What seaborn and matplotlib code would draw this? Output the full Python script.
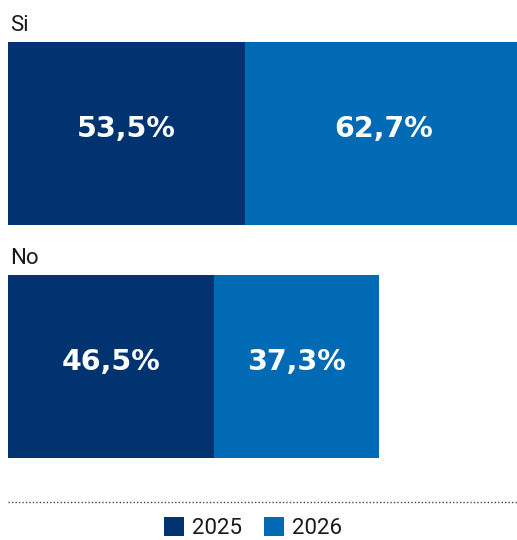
import matplotlib
matplotlib.use("Agg")
import matplotlib.pyplot as plt
from matplotlib.patches import Patch
from matplotlib.lines import Line2D
import seaborn as sns
import pandas as pd

categories = ["Si", "No"]
v2025 = [53.5, 46.5]
v2026 = [62.7, 37.3]
series_names = ["2025", "2026"]
c2025 = "#003370"
c2026 = "#006AB4"

sns.set_theme(style="white")
plt.rcParams['font.family'] = ['Roboto', 'DejaVu Sans']

df = pd.DataFrame({"cat": categories, "v2025": v2025, "v2026": v2026})
df["total"] = df["v2025"] + df["v2026"]

W, H = 517, 540
fig = plt.figure(figsize=(W / 100, H / 100), dpi=100)
ax = fig.add_axes([8 / W, 1 - 480 / H, (W - 8) / W, 480 / H])

sns.barplot(data=df, x="total", y="cat", orient="h", color=c2026, saturation=1,
            width=0.785, ax=ax, linewidth=0, edgecolor="none")
sns.barplot(data=df, x="v2025", y="cat", orient="h", color=c2025, saturation=1,
            width=0.785, ax=ax, linewidth=0, edgecolor="none")

ax.set_xlim(0, 114.9)
ax.set_ylim(1.487, -0.573)
ax.axis("off")

def fmt(v):
    return f"{v:.1f}".replace(".", ",") + "%"

for i, (a, b) in enumerate(zip(v2025, v2026)):
    ax.text(a / 2, i + 0.015, fmt(a), ha="center", va="baseline", color="white",
            fontsize=20.5, fontweight="bold", family=["DejaVu Sans"])
    ax.text(a + b / 2, i + 0.015, fmt(b), ha="center", va="baseline", color="white",
            fontsize=20.5, fontweight="bold", family=["DejaVu Sans"])
    ax.text(0.5, i - 0.44, categories[i], ha="left", va="baseline", color="#1a1a1a",
            fontsize=16, fontweight="normal")

fig.add_artist(Line2D([8 / W, 1], [1 - 501.5 / H] * 2, transform=fig.transFigure,
                      color="#444444", linestyle=(0, (1, 1.5)), linewidth=1))

handles = [Patch(facecolor=c2025, edgecolor="none"), Patch(facecolor=c2026, edgecolor="none")]
fig.legend(handles, series_names, loc="center", bbox_to_anchor=(0.489, 1 - 528 / H),
           ncol=2, frameon=False, handlelength=0.9, handleheight=0.9,
           handletextpad=0.35, columnspacing=1.0, borderpad=0, labelcolor="#1a1a1a",
           prop={"weight": "normal", "size": 16})

fig.savefig("out.png", dpi=100)
